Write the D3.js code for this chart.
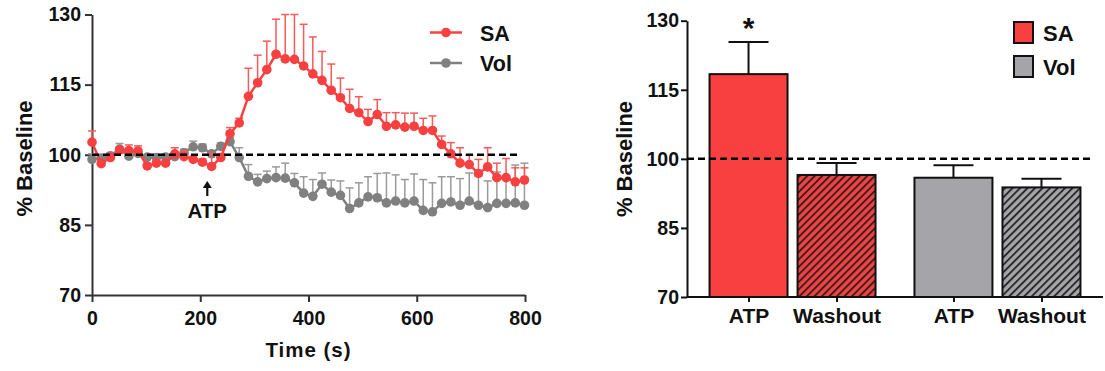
<!DOCTYPE html>
<html>
<head>
<meta charset="utf-8">
<script src="https://cdn.jsdelivr.net/npm/d3@7"></script>
<style>
  body { margin: 0; background: #fff; }
  text { font-family: "Liberation Sans", Arial, sans-serif; font-weight: bold; fill: #111; }
</style>
</head>
<body>
<div class="container"></div>
<script>
// time course (left panel)
const times = [0, 17, 34, 51, 68, 85, 102, 119, 136, 153, 170, 187, 204, 221, 238, 255,
  272, 289, 306, 323, 340, 357, 374, 391, 408, 425, 442, 459, 476, 493, 510, 527,
  544, 561, 578, 595, 612, 629, 646, 663, 680, 697, 714, 731, 748, 765, 782, 799]

const saMean = [102.7, 98.1, 99.4, 101.0, 100.9, 100.8, 97.6, 98.2, 98.2, 100.2, 99.6, 99.0, 98.4, 97.5, 99.4, 104.5,
  106.8, 112.5, 115.4, 118.2, 121.5, 120.5, 120.4, 119.0, 117.3, 115.9, 113.8, 112.2, 109.9, 109.0, 107.1, 108.6,
  106.1, 106.4, 105.9, 106.1, 105.2, 105.2, 102.2, 100.2, 98.2, 97.9, 96.0, 97.4, 95.1, 95.1, 94.2, 94.6]
const saErr = [2.4, 0.6, 0.7, 0.6, 1.2, 1.1, 0.5, 0.5, 0.5, 1.3, 1.2, 0.6, 0.7, 2.9, 0.8, 1.3,
  1.0, 6.0, 5.9, 6.1, 7.5, 9.5, 9.6, 8.9, 7.9, 6.2, 5.6, 4.2, 4.1, 3.4, 2.6, 3.2,
  2.9, 2.6, 3.0, 2.8, 2.6, 3.1, 1.8, 2.4, 3.3, 2.0, 3.0, 4.1, 3.1, 4.1, 3.0, 2.6]

const volMean = [99.0, 99.3, 99.8, 101.2, 99.7, 100.3, 99.5, 99.4, 99.5, 99.6, 100.4, 101.7, 101.5, 100.2, 101.8, 102.8,
  99.4, 95.4, 94.2, 94.9, 95.1, 95.0, 94.0, 91.8, 91.1, 93.7, 92.0, 91.3, 88.5, 89.7, 91.0, 90.8,
  89.7, 90.1, 89.7, 90.1, 88.1, 87.8, 89.6, 89.9, 89.2, 90.1, 89.2, 88.7, 89.6, 89.6, 89.7, 89.2]
const volErr = [1.2, 0.5, 0.5, 1.2, 1.5, 0.6, 0.5, 0.6, 0.6, 0.6, 0.8, 1.2, 0.8, 0.6, 0.7, 0.8,
  2.1, 2.5, 1.6, 1.6, 2.3, 3.2, 2.0, 3.5, 3.6, 2.4, 2.6, 3.1, 4.4, 4.3, 4.3, 5.2,
  6.4, 5.6, 5.0, 5.8, 6.6, 6.2, 5.7, 5.4, 5.7, 6.0, 6.2, 5.7, 6.7, 5.7, 8.1, 9.0]

const atpTime = 213

// bar summary (right panel)
const groups = ['SA', 'Vol']
const conditions = ['ATP', 'Washout']
const barMean = { SA: [118.4, 96.5], Vol: [95.9, 93.8] }
const barErr = { SA: [7.0, 2.6], Vol: [2.7, 1.9] }
const significant = { SA: [true, false], Vol: [false, false] }

const yTicks = [70, 85, 100, 115, 130]
const xTicks = [0, 200, 400, 600, 800]

const red = '#f84040'
const redErr = '#f65a5a'
const grayLine = '#808080'
const grayErr = '#9a9a9a'
const grayBar = '#a4a4a9'

const svg = d3.select('.container')
  .append('svg')
  .attr('width', 1105)
  .attr('height', 371)

const defs = svg.append('defs')
function hatch(id, color) {
  const p = defs.append('pattern')
    .attr('id', id)
    .attr('patternUnits', 'userSpaceOnUse')
    .attr('width', 5.3)
    .attr('height', 10)
    .attr('patternTransform', 'rotate(45)')
  p.append('rect').attr('width', 5.3).attr('height', 10).attr('fill', color)
  p.append('line').attr('x1', 1).attr('x2', 1).attr('y1', 0).attr('y2', 10)
    .attr('stroke', '#222').attr('stroke-width', 1.8)
}
hatch('hatch-SA', red)
hatch('hatch-Vol', grayBar)

// ---------- left panel ----------
const xL = d3.scaleLinear().domain([0, 800]).range([92, 525])
const yL = d3.scaleLinear().domain([70, 130]).range([295, 14.5])

const yAxisL = svg.append('g')
  .attr('transform', 'translate(92, 0)')
  .call(d3.axisLeft(yL).tickValues(yTicks).tickSize(7).tickSizeOuter(0).tickPadding(4))
const xAxisL = svg.append('g')
  .attr('transform', 'translate(0, 295)')
  .call(d3.axisBottom(xL).tickValues(xTicks).tickSize(7).tickSizeOuter(0).tickPadding(9))

;[yAxisL, xAxisL].forEach(g => {
  g.selectAll('path, line').attr('stroke', '#333').attr('stroke-width', 2)
  g.selectAll('text').attr('font-size', 19.5).attr('font-family', null)
})

svg.append('text')
  .attr('x', 308.5).attr('y', 357)
  .attr('text-anchor', 'middle')
  .attr('font-size', 20.5)
  .style('letter-spacing', '1px')
  .text('Time (s)')

svg.append('text')
  .attr('transform', 'translate(31.5, 158.5) rotate(-90)')
  .attr('text-anchor', 'middle')
  .attr('font-size', 22)
  .text('% Baseline')

const series = [
  { name: 'Vol', mean: volMean, err: volErr, line: grayLine, errColor: grayErr },
  { name: 'SA', mean: saMean, err: saErr, line: red, errColor: redErr }
]

series.forEach(s => {
  const g = svg.append('g')
  const errs = g.append('g').selectAll('g')
    .data(times)
    .enter()
    .append('g')
    .attr('stroke', s.errColor)
    .attr('stroke-width', 1.5)
  errs.append('line')
    .attr('x1', (d) => xL(d)).attr('x2', (d) => xL(d))
    .attr('y1', (d, i) => yL(s.mean[i]))
    .attr('y2', (d, i) => yL(s.mean[i] + s.err[i]))
  errs.append('line')
    .attr('x1', (d) => xL(d) - 4).attr('x2', (d) => xL(d) + 4)
    .attr('y1', (d, i) => yL(s.mean[i] + s.err[i]))
    .attr('y2', (d, i) => yL(s.mean[i] + s.err[i]))

  const line = d3.line()
    .x((d) => xL(d))
    .y((d, i) => yL(s.mean[i]))
  g.append('path')
    .datum(times)
    .attr('d', line)
    .attr('fill', 'none')
    .attr('stroke', s.line)
    .attr('stroke-width', 2.5)
  g.selectAll('circle')
    .data(times)
    .enter()
    .append('circle')
    .attr('cx', (d) => xL(d))
    .attr('cy', (d, i) => yL(s.mean[i]))
    .attr('r', 4.8)
    .attr('fill', s.line)
})

svg.append('line')
  .attr('x1', xL(0)).attr('x2', xL(788))
  .attr('y1', yL(100)).attr('y2', yL(100))
  .attr('stroke', '#000').attr('stroke-width', 2.5)
  .attr('stroke-dasharray', '7,4')

// ATP arrow
svg.append('line')
  .attr('x1', xL(atpTime)).attr('x2', xL(atpTime))
  .attr('y1', 196).attr('y2', 185)
  .attr('stroke', '#111').attr('stroke-width', 2.2)
svg.append('path')
  .attr('d', `M${xL(atpTime) - 4.5},${188} L${xL(atpTime)},${181} L${xL(atpTime) + 4.5},${188} Z`)
  .attr('fill', '#111')
svg.append('text')
  .attr('x', xL(atpTime)).attr('y', 218)
  .attr('text-anchor', 'middle')
  .attr('font-size', 20.5)
  .text('ATP')

// legend left
const legL = svg.append('g')
const legLRows = [
  { name: 'SA', color: red, y: 32.5 },
  { name: 'Vol', color: grayLine, y: 63 }
]
legLRows.forEach(r => {
  legL.append('line')
    .attr('x1', 430).attr('x2', 462)
    .attr('y1', r.y).attr('y2', r.y)
    .attr('stroke', r.color).attr('stroke-width', 2.5)
  legL.append('circle')
    .attr('cx', 446).attr('cy', r.y).attr('r', 4.8)
    .attr('fill', r.color)
  legL.append('text')
    .attr('x', 480).attr('y', r.y + 8)
    .attr('font-size', 21.5)
    .text(r.name)
})

// ---------- right panel ----------
const yR = d3.scaleLinear().domain([70, 130]).range([297, 20.7])
const outer = d3.scaleBand().domain(groups).range([687, 1103]).paddingInner(0.19).paddingOuter(0.11)
const inner = d3.scaleBand().domain(conditions).range([0, outer.bandwidth()]).paddingInner(0.114)

const bars = []
groups.forEach(gname => {
  conditions.forEach((c, j) => {
    bars.push({ group: gname, cond: c, mean: barMean[gname][j], err: barErr[gname][j], sig: significant[gname][j],
      x: outer(gname) + inner(c) })
  })
})

const fillFor = (d) => d.cond === 'Washout' ? `url(#hatch-${d.group})` : (d.group === 'SA' ? red : grayBar)

svg.append('g').selectAll('rect')
  .data(bars)
  .enter()
  .append('rect')
  .attr('x', (d) => d.x)
  .attr('y', (d) => yR(d.mean))
  .attr('width', inner.bandwidth())
  .attr('height', (d) => yR(70) - yR(d.mean))
  .attr('fill', fillFor)
  .attr('stroke', '#111')
  .attr('stroke-width', 2)

const eb = svg.append('g').selectAll('g')
  .data(bars)
  .enter()
  .append('g')
  .attr('stroke', '#111')
  .attr('stroke-width', 2)
eb.append('line')
  .attr('x1', (d) => d.x + inner.bandwidth() / 2).attr('x2', (d) => d.x + inner.bandwidth() / 2)
  .attr('y1', (d) => yR(d.mean)).attr('y2', (d) => yR(d.mean + d.err))
eb.append('line')
  .attr('x1', (d) => d.x + inner.bandwidth() / 2 - 20).attr('x2', (d) => d.x + inner.bandwidth() / 2 + 20)
  .attr('y1', (d) => yR(d.mean + d.err)).attr('y2', (d) => yR(d.mean + d.err))

svg.append('g').selectAll('text')
  .data(bars.filter(d => d.sig))
  .enter()
  .append('text')
  .attr('x', (d) => d.x + inner.bandwidth() / 2)
  .attr('y', (d) => yR(d.mean + d.err) - 4)
  .attr('text-anchor', 'middle')
  .attr('font-size', 30)
  .text('*')

const yAxisR = svg.append('g')
  .attr('transform', 'translate(687, 0)')
  .call(d3.axisLeft(yR).tickValues(yTicks).tickSize(6).tickSizeOuter(0).tickPadding(2))

const centers = d3.scaleOrdinal()
  .domain(bars.map((d, i) => i))
  .range(bars.map(d => d.x + inner.bandwidth() / 2))
const xAxisR = svg.append('g')
  .attr('transform', 'translate(0, 297)')
  .call(d3.axisBottom(centers).tickSize(5).tickPadding(6).tickFormat((i) => bars[i].cond))
xAxisR.select('.domain').remove()
xAxisR.append('line')
  .attr('x1', 687).attr('x2', 1103)
  .attr('y1', 0).attr('y2', 0)

;[yAxisR, xAxisR].forEach(g => {
  g.selectAll('path, line').attr('stroke', '#111').attr('stroke-width', 2)
  g.selectAll('text').attr('font-family', null)
})
yAxisR.selectAll('text').attr('font-size', 19.5)
xAxisR.selectAll('text').attr('font-size', 21)

svg.append('line')
  .attr('x1', 687).attr('x2', 1093)
  .attr('y1', yR(100)).attr('y2', yR(100))
  .attr('stroke', '#000').attr('stroke-width', 2.5)
  .attr('stroke-dasharray', '7,4')

svg.append('text')
  .attr('transform', 'translate(632, 159) rotate(-90)')
  .attr('text-anchor', 'middle')
  .attr('font-size', 22)
  .text('% Baseline')

// legend right
const legR = [
  { name: 'SA', color: red, y: 22 },
  { name: 'Vol', color: grayBar, y: 56 }
]
legR.forEach(r => {
  svg.append('rect')
    .attr('x', 1014).attr('y', r.y)
    .attr('width', 19).attr('height', 21)
    .attr('fill', r.color)
    .attr('stroke', '#111').attr('stroke-width', 2)
  svg.append('text')
    .attr('x', 1043).attr('y', r.y + 18.5)
    .attr('font-size', 22)
    .text(r.name)
})
</script>
</body>
</html>
